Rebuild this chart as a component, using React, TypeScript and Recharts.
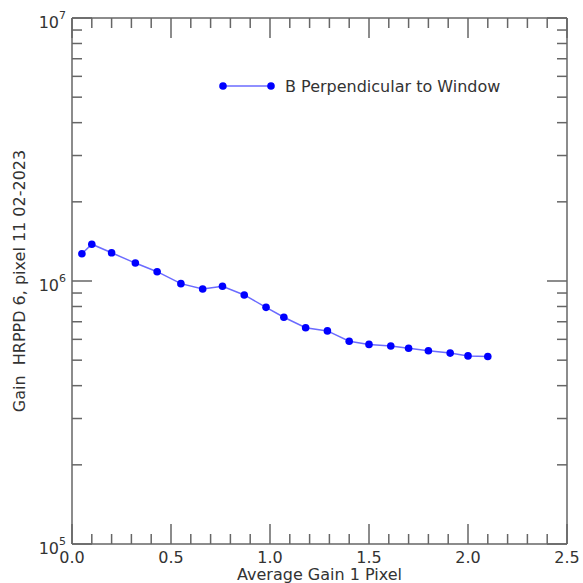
import React from "react";
import { LineChart, Line, XAxis, YAxis, Legend, Label } from "recharts";

const xValues = [0.05, 0.1, 0.2, 0.32, 0.43, 0.55, 0.66, 0.76, 0.87, 0.98, 1.07, 1.18, 1.29, 1.4, 1.5, 1.61, 1.7, 1.8, 1.91, 2.0, 2.1];
const gainValues = [1.27e6, 1.38e6, 1.28e6, 1.17e6, 1.085e6, 0.977e6, 0.932e6, 0.955e6, 0.885e6, 0.794e6, 0.728e6, 0.664e6, 0.646e6, 0.59e6, 0.574e6, 0.566e6, 0.555e6, 0.543e6, 0.532e6, 0.519e6, 0.516e6];
const xTicks = [0, 0.1, 0.2, 0.3, 0.4, 0.5, 0.6, 0.7, 0.8, 0.9, 1.0, 1.1, 1.2, 1.3, 1.4, 1.5, 1.6, 1.7, 1.8, 1.9, 2.0, 2.1, 2.2, 2.3, 2.4, 2.5];
const yTicks = [1e5, 2e5, 3e5, 4e5, 5e5, 6e5, 7e5, 8e5, 9e5, 1e6, 2e6, 3e6, 4e6, 5e6, 6e6, 7e6, 8e6, 9e6, 1e7];
const seriesName = "B Perpendicular to Window";
const xTitle = "Average Gain 1 Pixel";
const yTitle = "Gain  HRPPD 6, pixel 11 02-2023";

const data = xValues.map((x, i) => ({ x, gain: gainValues[i] }));

const FONT = "DejaVu Sans";
const TEXT = "#333";
const AXIS = "#666";
const M = 8;
const MAJOR = 20;
const MINOR = 10;

const isMajorX = (v: number) => Math.abs(v * 2 - Math.round(v * 2)) < 1e-9;
const isPow10 = (v: number) => Math.abs(Math.log10(v) - Math.round(Math.log10(v))) < 1e-9;

const BottomTick = (p: any) => {
  const v = p.payload.value;
  const ay = p.y - M;
  const major = isMajorX(v);
  return (
    <g>
      <line x1={p.x} x2={p.x} y1={ay} y2={ay - (major ? MAJOR : MINOR)} stroke={AXIS} strokeWidth={1.5} />
      {major && (
        <text x={p.x} y={ay + 18.5} textAnchor="middle" fontFamily={FONT} fontSize={16} fill={TEXT}>
          {v.toFixed(1)}
        </text>
      )}
    </g>
  );
};

const TopTick = (p: any) => {
  const v = p.payload.value;
  const ay = p.y + M;
  const major = isMajorX(v);
  return <line x1={p.x} x2={p.x} y1={ay} y2={ay + (major ? MAJOR : MINOR)} stroke={AXIS} strokeWidth={1.5} />;
};

const LeftTick = (p: any) => {
  const v = p.payload.value;
  const ax = p.x + M;
  const major = isPow10(v);
  return (
    <g>
      <line x1={ax} x2={ax + (major ? MAJOR : MINOR)} y1={p.y} y2={p.y} stroke={AXIS} strokeWidth={1.5} />
      {major && (
        <text x={ax - 6} y={p.y + 10} textAnchor="end" fontFamily={FONT} fontSize={16} fill={TEXT}>
          10
          <tspan dy={-9} fontSize={11}>{Math.round(Math.log10(v))}</tspan>
        </text>
      )}
    </g>
  );
};

const RightTick = (p: any) => {
  const v = p.payload.value;
  const ax = p.x - M;
  const major = isPow10(v);
  return <line x1={ax} x2={ax - (major ? MAJOR : MINOR)} y1={p.y} y2={p.y} stroke={AXIS} strokeWidth={1.5} />;
};

const renderLegend = () => (
  <svg width={320} height={22} style={{ display: "block" }}>
    <line x1={8} x2={56} y1={11} y2={11} stroke="#6b6bff" strokeWidth={1.5} />
    <circle cx={8} cy={11} r={3.8} fill="#0000ff" />
    <circle cx={56} cy={11} r={3.8} fill="#0000ff" />
    <text x={70} y={17} fontFamily={FONT} fontSize={16} fill={TEXT}>
      {seriesName}
    </text>
  </svg>
);

export default function App() {
  return (
    <div style={{ position: "absolute", left: 0, top: 0, width: 583, height: 583, background: "#fff" }}>
      <LineChart width={583} height={583} data={data} margin={{ top: 17, right: 15, bottom: 0, left: 0 }}>
        <XAxis
          xAxisId="bottom"
          dataKey="x"
          type="number"
          domain={[0, 2.5]}
          ticks={xTicks}
          interval={0}
          height={39}
          tickSize={0}
          tickMargin={M}
          tickLine={false}
          axisLine={{ stroke: AXIS, strokeWidth: 1.5 }}
          tick={BottomTick}
          allowDataOverflow
        >
          <Label
            content={(props: any) => {
              const vb = props.viewBox;
              return (
                <text x={vb.x + vb.width / 2} y={vb.y + 36} textAnchor="middle" fontFamily={FONT} fontSize={16} fill={TEXT}>
                  {xTitle}
                </text>
              );
            }}
          />
        </XAxis>
        <XAxis
          xAxisId="top"
          orientation="top"
          dataKey="x"
          type="number"
          domain={[0, 2.5]}
          ticks={xTicks}
          interval={0}
          height={1}
          tickSize={0}
          tickMargin={M}
          tickLine={false}
          axisLine={{ stroke: AXIS, strokeWidth: 1.5 }}
          tick={TopTick}
          allowDataOverflow
        />
        <YAxis
          yAxisId="left"
          scale="log"
          type="number"
          domain={[1e5, 1e7]}
          ticks={yTicks}
          interval={0}
          width={72}
          tickSize={0}
          tickMargin={M}
          tickLine={false}
          axisLine={{ stroke: AXIS, strokeWidth: 1.5 }}
          tick={LeftTick}
          allowDataOverflow
        >
          <Label
            content={(props: any) => {
              const vb = props.viewBox;
              const cx = vb.x + 25;
              const cy = vb.y + vb.height / 2;
              return (
                <text
                  x={cx}
                  y={cy}
                  transform={`rotate(-90, ${cx}, ${cy})`}
                  textAnchor="middle"
                  fontFamily={FONT}
                  fontSize={16}
                  fill={TEXT}
                  style={{ whiteSpace: "pre" }}
                >
                  {yTitle}
                </text>
              );
            }}
          />
        </YAxis>
        <YAxis
          yAxisId="right"
          orientation="right"
          scale="log"
          type="number"
          domain={[1e5, 1e7]}
          ticks={yTicks}
          interval={0}
          width={1}
          tickSize={0}
          tickMargin={M}
          tickLine={false}
          axisLine={{ stroke: AXIS, strokeWidth: 1.5 }}
          tick={RightTick}
          allowDataOverflow
        />
        <Legend
          content={renderLegend}
          layout="horizontal"
          verticalAlign="middle"
          align="center"
          wrapperStyle={{ position: "absolute", left: 215, top: 75, width: 320, height: 22 }}
        />
        <Line
          xAxisId="bottom"
          yAxisId="left"
          dataKey="gain"
          name={seriesName}
          stroke="#6b6bff"
          strokeWidth={1.5}
          dot={{ r: 3.8, fill: "#0000ff", stroke: "none" }}
          isAnimationActive={false}
        />
      </LineChart>
    </div>
  );
}
